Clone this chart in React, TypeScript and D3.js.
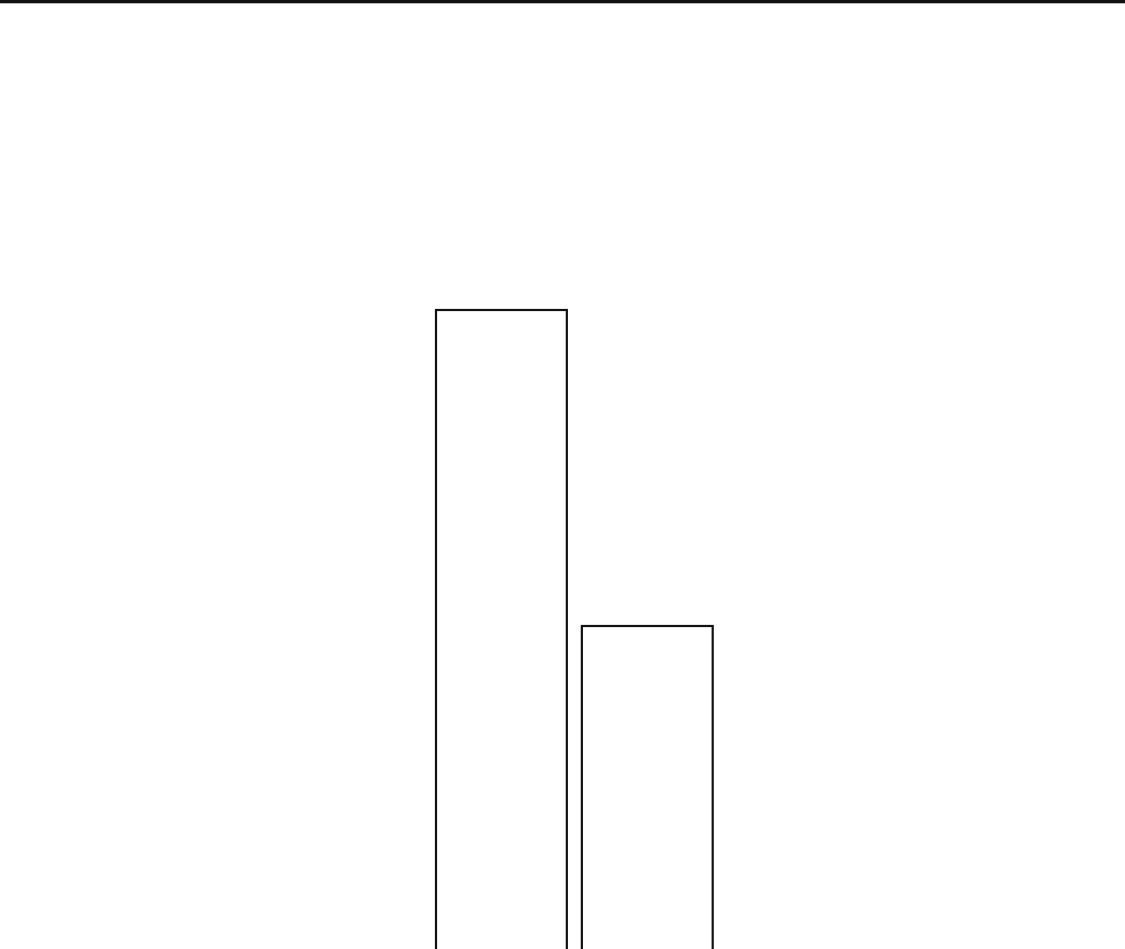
import { useEffect, useRef } from "react";
import * as d3 from "d3";

const categories = ["A", "B"];
const values = [69, 37.4];

export default function App() {
    const svgRef = useRef<SVGSVGElement>(null);

    useEffect(() => {
        if (!svgRef.current) return;
        const width = 1125;
        const height = 949;
        const svg = d3.select(svgRef.current);
        svg.selectAll("*").remove();

        svg.append("rect")
            .attr("width", width)
            .attr("height", height)
            .style("fill", "#ffffff");

        // top border line
        svg.append("rect")
            .attr("x", 0)
            .attr("y", 0)
            .attr("width", width)
            .attr("height", 3.3)
            .style("fill", "#111111");

        // baseline sits below the visible area
        const yScale = d3.scaleLinear()
            .domain([0, 100])
            .range([1000, 0]);

        const xScale = d3.scaleBand<string>()
            .domain(categories)
            .range([436, 712.7])
            .paddingInner(0.103)
            .paddingOuter(0);

        svg.selectAll(".bar")
            .data(values)
            .enter()
            .append("rect")
            .attr("class", "bar")
            .attr("x", (_, i) => xScale(categories[i])!)
            .attr("y", d => yScale(d))
            .attr("width", xScale.bandwidth())
            .attr("height", d => yScale(0) - yScale(d))
            .style("fill", "none")
            .style("stroke", "#111111")
            .style("stroke-width", 2.2);
    }, []);

    return (
        <svg
            ref={svgRef}
            width={1125}
            height={949}
            style={{ position: "absolute", left: 0, top: 0, display: "block" }}
        />
    );
}
